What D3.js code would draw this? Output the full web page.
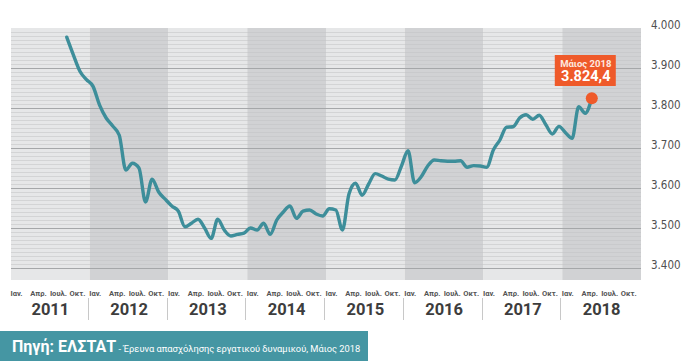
<!DOCTYPE html>
<html><head><meta charset="utf-8">
<script src="https://cdn.jsdelivr.net/npm/d3@7"></script>
<style>
body{margin:0;background:#fff;}
svg{display:block;}
text{font-family:Roboto,"DejaVu Sans",sans-serif;}
</style></head>
<body><svg id="c" width="700" height="361"></svg>
<script>
const years = [2011,2012,2013,2014,2015,2016,2017,2018];
const monthLabels = ["Ιαν.","Απρ.","Ιουλ.","Οκτ."];
const yTicks = [3400,3500,3600,3700,3800,3900,4000];
const yTickLabels = ["3.400","3.500","3.600","3.700","3.800","3.900","4.000"];
// monthly index from Jan 2011 (0) ; series starts Sep 2011 (8)
const startIndex = 8;
const employed = [
 3977,3933,3892,3871,3854,3807,3775,3755,3732,3645,3662,3650,3565,3622,3590,3572,
 3555,3542,3503,3512,3522,3500,3474,3522,3495,3480,3484,3487,
 3500,3495,3512,3484,3520,3540,3555,3524,3542,3545,3535,3530,
 3548,3545,3495,3585,3612,3582,3610,3636,3630,3622,3620,3655,
 3693,3613,3628,3655,3670,3668,3667,3667,3668,3652,3656,3655,
 3652,3695,3720,3752,3753,3775,3783,3772,3782,3758,3735,3754,
 3738,3724,3803,3787,3824.4
];
const noteLabel = "Μάιος 2018";
const noteValue = "3.824,4";
const sourceTitle = "Πηγή: ΕΛΣΤΑΤ";
const sourceText = " - Έρευνα απασχόλησης εργατικού δυναμικού, Μάιος 2018";

const svg = d3.select("#c");
const pLeft = 11, pRight = 641, pTop = 28, pBottom = 280;
const x = d3.scaleLinear().domain([0, 96]).range([pLeft, pRight]);
const y = d3.scaleLinear().domain([3400, 4000]).range([268, pTop]);

// bands
svg.selectAll("rect.band").data(years).join("rect")
  .attr("x", (d,i)=>x(i*12)).attr("y", pTop)
  .attr("width", x(12)-x(0)).attr("height", pBottom-pTop)
  .attr("fill", (d,i)=> i%2 ? "#d1d2d4" : "#e6e7e8");

// minor grid
const minor = d3.range(3400, 4001, 10).filter(v => v%100 !== 0);
svg.selectAll("line.minor").data(minor).join("line")
  .attr("x1", pLeft).attr("x2", pRight)
  .attr("y1", d=>Math.round(y(d))+0.5).attr("y2", d=>Math.round(y(d))+0.5)
  .attr("stroke", "#c4c5c7").attr("stroke-width", 0.7).attr("opacity",0.8);
// major grid
svg.selectAll("line.major").data(yTicks.filter(v=>v<4000)).join("line")
  .attr("x1", pLeft).attr("x2", pRight)
  .attr("y1", d=>Math.round(y(d))+0.5).attr("y2", d=>Math.round(y(d))+0.5)
  .attr("stroke", "#a5a7a9").attr("stroke-width", 1);

// y labels
svg.selectAll("text.ylab").data(yTicks).join("text")
  .attr("x", 651).attr("y", d=>y(d)+0.5)
  .attr("font-size", 11.5).attr("fill", "#505050")
  .style("font-family", "'DejaVu Sans Condensed','Roboto',sans-serif")
  .style("font-stretch","condensed")
  .text((d,i)=>yTickLabels[i]);

// line
const pts = employed.map((v,k)=>({i:startIndex+k, v}));
const line = d3.line().x(d=>x(d.i+0.5)).y(d=>y(d.v)).curve(d3.curveMonotoneX);
svg.append("path").datum(pts).attr("d", line)
  .attr("fill","none").attr("stroke","#3d8e9a").attr("stroke-width",3.4)
  .attr("stroke-linejoin","round").attr("stroke-linecap","round");

// marker & note
const last = pts[pts.length-1];
svg.append("circle").attr("cx", x(last.i+0.5)).attr("cy", y(last.v)).attr("r", 6)
  .attr("fill", "#ef5a2a");
const bx = x(last.i+0.5) - 6;
svg.append("rect").attr("x", bx-31).attr("y", 55).attr("width", 61).attr("height", 31)
  .attr("fill", "#ef5a2a");
svg.append("text").attr("x", bx).attr("y", 66.5).attr("text-anchor","middle")
  .attr("font-size", 9.5).attr("font-weight","bold").attr("fill","#fde9e0").text(noteLabel);
svg.append("text").attr("x", bx).attr("y", 81).attr("text-anchor","middle")
  .attr("font-size", 14.5).attr("font-weight","bold").attr("fill","#fff").text(noteValue);

// month labels
const months = [];
years.forEach((yr,yi)=> monthLabels.forEach((m,mi)=> months.push({i: yi*12+mi*3, t:m})));
svg.selectAll("text.mon").data(months).join("text")
  .attr("x", d=>x(d.i)-0.5).attr("y", 296)
  .attr("font-size", 7.6).attr("font-weight","bold").attr("fill","#555")
  .text(d=>d.t);

// year labels
svg.selectAll("text.yr").data(years).join("text")
  .attr("x", (d,i)=>x(i*12+6)).attr("y", 315).attr("text-anchor","middle")
  .attr("font-size", 16.5).attr("font-weight","bold").attr("fill","#3d3d3d")
  .text(d=>d);
// separators
svg.selectAll("line.sep").data(years.slice(1)).join("line")
  .attr("x1",(d,i)=>Math.round(x((i+1)*12))-1.5).attr("x2",(d,i)=>Math.round(x((i+1)*12))-1.5)
  .attr("y1", 298).attr("y2", 320).attr("stroke","#c8c8c8").attr("stroke-width",1);

// footer
svg.append("rect").attr("x",0).attr("y",331).attr("width",368).attr("height",30).attr("fill","#4596a3");
const ft = svg.append("text").attr("x", 12).attr("y", 352).attr("fill","#fff");
ft.append("tspan").attr("font-size", 16).attr("font-weight","bold").text(sourceTitle);
ft.append("tspan").attr("font-size", 9.3).text(sourceText);
</script></body></html>
